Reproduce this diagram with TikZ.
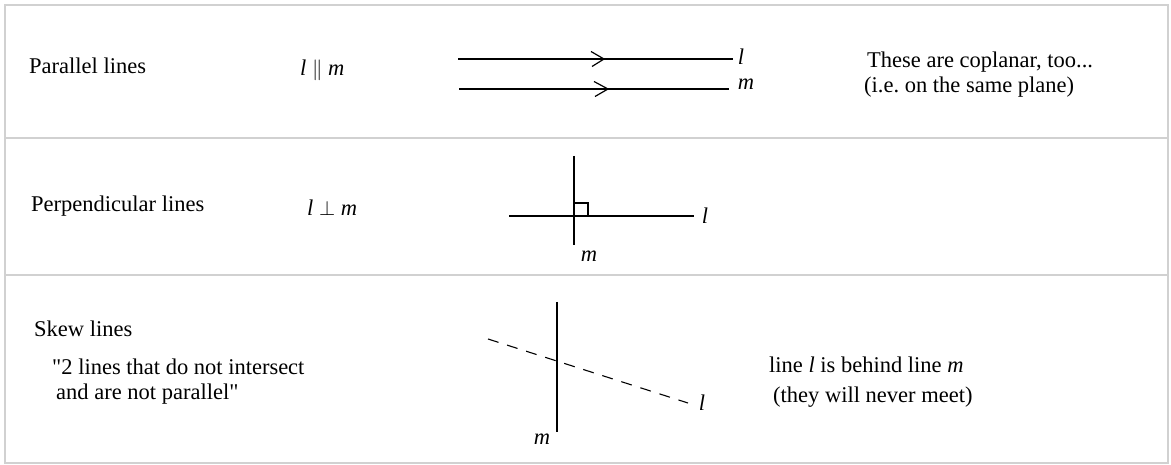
\documentclass[tikz,border=0pt]{standalone}
\usepackage{fontspec}
\setmainfont{Liberation Serif}[Ligatures=TeXOff]
\frenchspacing
\begin{document}
\begin{tikzpicture}[x=1pt,y=-1pt,
  txt/.style={anchor=base west,inner sep=0pt,font=\fontsize{22.5}{26}\selectfont},
  lbl/.style={inner sep=0pt,font=\fontsize{22.5}{26}\selectfont\itshape},
  ln/.style={line width=1.2pt,black},
  grid/.style={line width=1.4pt,draw=black!18}]
\useasboundingbox (0,0) rectangle (1171,465);
% table frame
\draw[grid] (5,5) rectangle (1168,463);
\draw[grid] (5,138) -- (1168,138);
\draw[grid] (5,275) -- (1168,275);
% Row 1
\node[txt] (t1) at (29,74) {Parallel lines};
\node[txt] (n1) at (300,76) {\textit{l} $\parallel$ \textit{m}};
\coordinate (la) at (458,59); \coordinate (lb) at (733,59);
\coordinate (ma) at (459,89); \coordinate (mb) at (729,89);
\draw[ln] (la) -- (lb);
\draw[ln] (ma) -- (mb);
\draw[ln] (591,51.5) -- (604,59) -- (592,66.5);
\draw[ln] (594,81.5) -- (608,89) -- (595,96.5);
\node[lbl] (l1) at (741,57) {l};
\node[lbl] (m1) at (746,84) {m};
\node[txt] (c1) at (867,68) {These are coplanar, too...};
\node[txt] (c2) at (864,93) {(i.e. on the same plane)};
% Row 2
\node[txt] (t2) at (31,212) {Perpendicular lines};
\node[txt] (n2) at (307,216) {\textit{l} $\perp$ \textit{m}};
\coordinate (pa) at (574,156); \coordinate (pb) at (574,245);
\coordinate (ha) at (509,216); \coordinate (hb) at (694,216);
\draw[ln] (pa) -- (pb);
\draw[ln] (ha) -- (hb);
\draw[line width=1.1pt] (574,203) -- (588,203) -- (588,216);
\node[lbl] (l2) at (705,216) {l};
\node[lbl] (m2) at (589,256) {m};
% Row 3
\node[txt] (t3) at (34,337) {Skew lines};
\node[txt] (q1) at (52,374) {"2 lines that do not intersect};
\node[txt] (q2) at (56,399) {and are not parallel"};
\coordinate (sa) at (557,302); \coordinate (sb) at (557,432);
\coordinate (da) at (488,339); \coordinate (db) at (688,403);
\draw[ln] (sa) -- (sb);
\draw[line width=1.1pt,dash pattern=on 11pt off 9pt] (da) -- (db);
\node[lbl] (l3) at (702,403) {l};
\node[lbl] (m3) at (542,439) {m};
\node[txt] (b1) at (769,373) {line \textit{l} is behind line \textit{m}};
\node[txt] (b2) at (773,402) {(they will never meet)};
\end{tikzpicture}
\end{document}
